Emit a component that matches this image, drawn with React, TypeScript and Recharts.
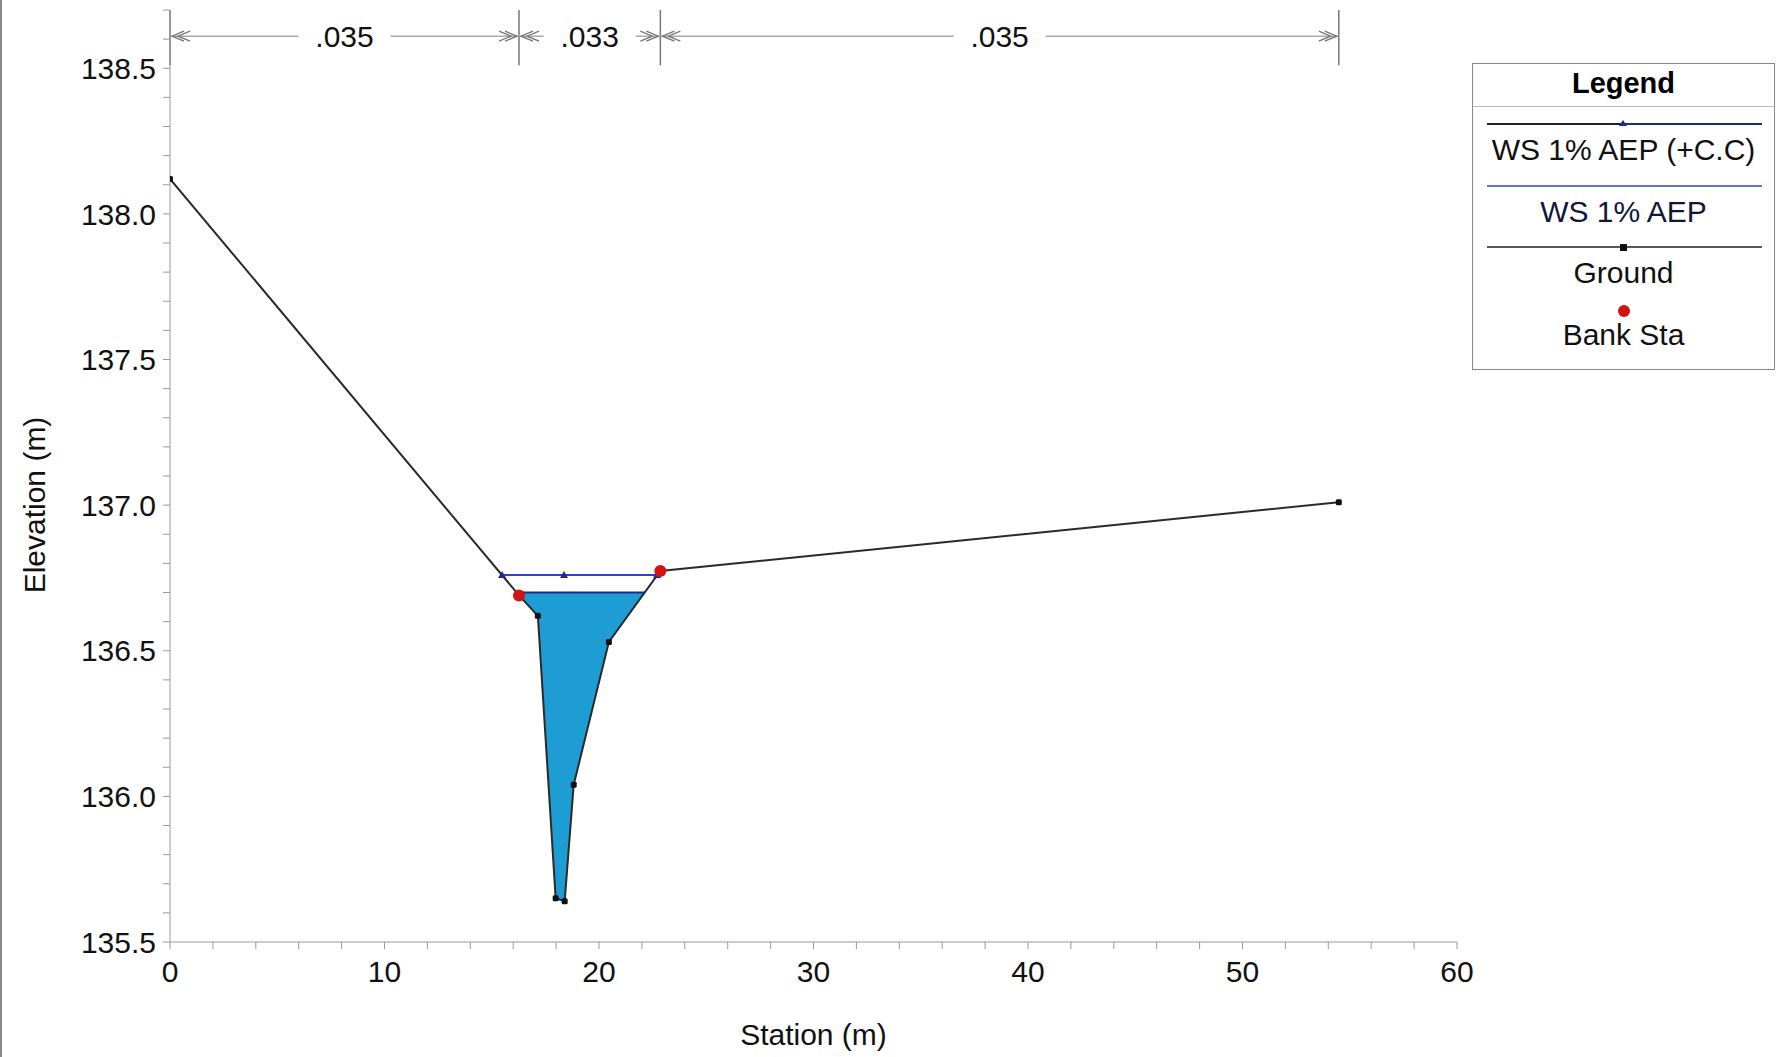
import React from 'react'
import { ComposedChart, Line, Area, XAxis, YAxis, ReferenceLine } from 'recharts'

// ground profile (station m, elevation m)
const groundStation = [0, 16.27, 17.15, 17.98, 18.4, 18.82, 20.46, 22.86, 54.49]
const groundElev = [138.12, 136.69, 136.62, 135.65, 135.64, 136.04, 136.53, 136.774, 137.01]

const bankStation = [16.27, 22.86]
const bankElev = [136.69, 136.774]

// WS 1% AEP (+C.C)
const wsccStation = [15.48, 18.37, 22.71]
const wsccElev = 136.76

// WS 1% AEP - water body between bed and surface
const waterStation = [16.16, 16.27, 17.15, 17.98, 18.4, 18.82, 20.46, 22.13]
const waterBed = [136.7, 136.69, 136.62, 135.65, 135.64, 136.04, 136.53, 136.7]
const wsElev = 136.7

// Manning's n per reach (left overbank, channel, right overbank)
const roughness = ['.035', '.033', '.035']

const xLabels = [0, 10, 20, 30, 40, 50, 60]
const yLabels = [135.5, 136.0, 136.5, 137.0, 137.5, 138.0, 138.5]
const xTicks = Array.from({ length: 31 }, (_, i) => i * 2)
const yTicks = Array.from({ length: 33 }, (_, i) => Math.round((135.5 + i * 0.1) * 10) / 10)

const FONT = '"Liberation Sans", Arial, sans-serif'
const AXIS = '#9a9a9a'

const ground = groundStation.map((x, i) => ({ x, y: groundElev[i] }))
const banks = bankStation.map((x, i) => ({ x, y: bankElev[i] }))
const wscc = wsccStation.map((x) => ({ x, y: wsccElev }))
const water = waterStation.map((x, i) => ({ x, range: [waterBed[i], wsElev] }))
const wsLine = [
  { x: waterStation[0], y: wsElev },
  { x: waterStation[waterStation.length - 1], y: wsElev },
]

const dimBreaks = [groundStation[0], bankStation[0], bankStation[1], groundStation[groundStation.length - 1]]
const DIM_Y = 138.61

const SquareDot = (p: any) => {
  if (p.cx == null) return null
  return <rect key={p.key} x={p.cx - 3} y={p.cy - 3} width={6} height={6} rx={1.5} fill="#111" />
}
const TriDot = (p: any) => {
  if (p.cx == null) return null
  return (
    <path
      key={p.key}
      d={`M${p.cx},${p.cy - 4} L${p.cx + 4},${p.cy + 3} L${p.cx - 4},${p.cy + 3} Z`}
      fill="#1c2a8c"
    />
  )
}
const BankDot = (p: any) => {
  if (p.cx == null) return null
  return <circle key={p.key} cx={p.cx} cy={p.cy} r={6} fill="#d41414" />
}

const dimShape = (label: string) => (p: any) => {
  const { x1, y1, x2 } = p
  const mid = (x1 + x2) / 2
  const chev = (x: number, dir: number) => (
    <g>
      <polyline points={`${x + dir * 14},${y1 - 5} ${x + dir * 2},${y1} ${x + dir * 14},${y1 + 5}`} fill="none" stroke="#777" strokeWidth={1.3} />
      <polyline points={`${x + dir * 20},${y1 - 5} ${x + dir * 8},${y1} ${x + dir * 20},${y1 + 5}`} fill="none" stroke="#777" strokeWidth={1.3} />
    </g>
  )
  return (
    <g>
      <line x1={x1} y1={y1} x2={x2} y2={y1} stroke="#aaa" strokeWidth={1.5} />
      {chev(x1, 1)}
      {chev(x2, -1)}
      <rect x={mid - 46} y={y1 - 15} width={92} height={30} fill="#fff" />
      <text x={mid} y={y1} dy="0.36em" textAnchor="middle" fontSize={30} fontFamily={FONT} fill="#111">
        {label}
      </text>
    </g>
  )
}

const legendRows = [
  { name: 'WS 1% AEP (+C.C)', kind: 'wscc' },
  { name: 'WS 1% AEP', kind: 'ws' },
  { name: 'Ground', kind: 'ground' },
  { name: 'Bank Sta', kind: 'bank' },
]

function LegendBox() {
  return (
    <div
      style={{
        position: 'absolute',
        left: 1472,
        top: 63,
        width: 303,
        height: 307,
        border: '1.5px solid #8a8a8a',
        background: '#fff',
        fontFamily: FONT,
        boxSizing: 'border-box',
      }}
    >
      <div style={{ position: 'absolute', top: 2, width: '100%', textAlign: 'center', fontSize: 29, fontWeight: 'bold', lineHeight: '34px' }}>
        Legend
      </div>
      <div style={{ position: 'absolute', top: 42, left: 0, width: '100%', borderTop: '1.5px solid #bbb' }} />
      {legendRows.map((r, i) => {
        const lineY = 60 + i * 61.5
        return (
          <div key={r.name}>
            <svg style={{ position: 'absolute', left: 0, top: lineY - 8 }} width={300} height={16}>
              {r.kind === 'wscc' && (
                <g>
                  <line x1={14} y1={8} x2={150} y2={8} stroke="#222" strokeWidth={1.8} />
                  <line x1={150} y1={8} x2={289} y2={8} stroke="#1c2a8c" strokeWidth={2} />
                  <path d="M150,4 L154,10 L146,10 Z" fill="#1c2a8c" />
                </g>
              )}
              {r.kind === 'ws' && <line x1={14} y1={8} x2={289} y2={8} stroke="#3443b8" strokeWidth={1.6} />}
              {r.kind === 'ground' && (
                <g>
                  <line x1={14} y1={8} x2={289} y2={8} stroke="#222" strokeWidth={1.6} />
                  <rect x={147} y={5} width={7} height={7} fill="#111" />
                </g>
              )}
              {r.kind === 'bank' && <circle cx={151} cy={10} r={6} fill="#d41414" />}
            </svg>
            <div
              style={{
                position: 'absolute',
                top: lineY + 9,
                width: '100%',
                textAlign: 'center',
                fontSize: 30,
                lineHeight: '34px',
                color: r.kind === 'ws' ? '#101838' : '#111',
              }}
            >
              {r.name}
            </div>
          </div>
        )
      })}
    </div>
  )
}

export default function App() {
  return (
    <div style={{ position: 'absolute', left: 0, top: 0, width: 1781, height: 1057, background: '#fff', overflow: 'hidden' }}>
      <div style={{ position: 'absolute', left: 0, top: 0, width: 2, height: 1057, background: '#888' }} />
      <ComposedChart width={1781} height={1057} margin={{ top: 10, right: 324, bottom: 0, left: 0 }}>
        <XAxis
          dataKey="x"
          type="number"
          domain={[0, 60]}
          ticks={xTicks}
          allowDataOverflow
          height={115}
          stroke={AXIS}
          tickSize={7}
          tickMargin={12}
          tickFormatter={(v: number) => (xLabels.includes(v) ? String(v) : '')}
          tick={{ fill: '#111', fontSize: 30, fontFamily: FONT }}
          label={{
            content: (props: any) => {
              const vb = props.viewBox
              return (
                <text x={vb.x + vb.width / 2} y={1034} dy="0.36em" textAnchor="middle" fontSize={30} fontFamily={FONT} fill="#111">
                  Station (m)
                </text>
              )
            },
          }}
        />
        <YAxis
          type="number"
          domain={[135.5, 138.7]}
          ticks={yTicks}
          allowDataOverflow
          width={170}
          stroke={AXIS}
          tickSize={7}
          tickMargin={7}
          interval={0}
          tickFormatter={(v: number) => (yLabels.some((l) => Math.abs(l - v) < 1e-6) ? v.toFixed(1) : '')}
          tick={{ fill: '#111', fontSize: 30, fontFamily: FONT }}
          label={{
            content: () => (
              <text
                x={34}
                y={505}
                transform="rotate(-90, 34, 505)"
                dy="0.36em"
                textAnchor="middle"
                fontSize={30}
                fontFamily={FONT}
                fill="#111"
              >
                Elevation (m)
              </text>
            ),
          }}
        />
        {dimBreaks.map((s) => (
          <ReferenceLine
            key={'b' + s}
            segment={[
              { x: s, y: 138.51 },
              { x: s, y: 138.7 },
            ]}
            stroke="#777"
            strokeWidth={1.5}
            ifOverflow="visible"
          />
        ))}
        {roughness.map((n, i) => (
          <ReferenceLine
            key={'n' + i}
            segment={[
              { x: dimBreaks[i], y: DIM_Y },
              { x: dimBreaks[i + 1], y: DIM_Y },
            ]}
            ifOverflow="visible"
            shape={dimShape(n)}
          />
        ))}
        <Area
          data={water}
          dataKey="range"
          type="linear"
          fill="#1d9dd4"
          fillOpacity={1}
          stroke="none"
          isAnimationActive={false}
        />
        <Line data={wsLine} dataKey="y" type="linear" stroke="#1c2a8c" strokeWidth={2} dot={false} isAnimationActive={false} />
        <Line data={wscc} dataKey="y" type="linear" stroke="#3443c4" strokeWidth={2} dot={TriDot} isAnimationActive={false} />
        <Line data={ground} dataKey="y" type="linear" stroke="#2a2a2a" strokeWidth={2} dot={SquareDot} isAnimationActive={false} />
        <Line data={banks} dataKey="y" type="linear" stroke="none" dot={BankDot} isAnimationActive={false} />
      </ComposedChart>
      <LegendBox />
    </div>
  )
}
